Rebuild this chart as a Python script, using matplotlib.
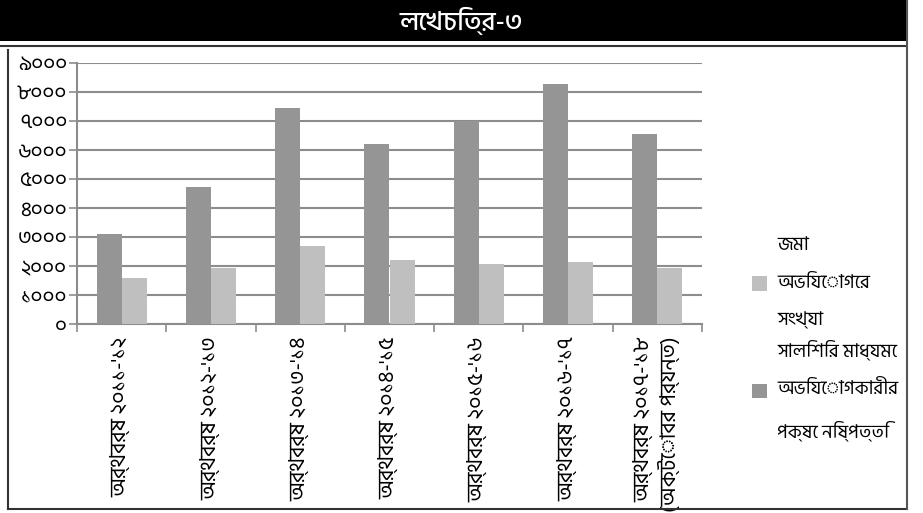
import matplotlib
matplotlib.use("Agg")
import matplotlib.pyplot as plt
from matplotlib.patches import Rectangle
from matplotlib.lines import Line2D
import numpy as np

# ---- data ----
categories = ["অর্থবর্ষ ২০১১-'১২", "অর্থবর্ষ ২০১২-'১৩", "অর্থবর্ষ ২০১৩-'১৪",
              "অর্থবর্ষ ২০১৪-'১৫", "অর্থবর্ষ ২০১৫-'১৬", "অর্থবর্ষ ২০১৬-'১৭",
              "অর্থবর্ষ ২০১৭-'১৮\n(অক্টোবর পর্যন্ত)"]
resolved = [3090, 4710, 7430, 6200, 6990, 8255, 6545]
submitted = [1600, 1930, 2675, 2200, 2055, 2150, 1930]
label_resolved = "সালিশির মাধ্যমে\nঅভিযোগকারীর\nপক্ষে নিষ্পত্তি"
label_submitted = "জমা\nঅভিযোগের\nসংখ্যা"
yticks = [0, 1000, 2000, 3000, 4000, 5000, 6000, 7000, 8000, 9000]
ytick_labels = ["০", "১০০০", "২০০০", "৩০০০", "৪০০০", "৫০০০", "৬০০০", "৭০০০", "৮০০০", "৯০০০"]
title = "লেখচিত্র-৩"

plt.rcParams["font.family"] = ["Hind Siliguri", "Noto Sans Bengali", "DejaVu Sans"]

W, H = 923, 513
fig = plt.figure(figsize=(W / 100, H / 100), dpi=100)

def fx(x):
    return x / W

def fy(y):
    return 1 - y / H

# header and frame
fig.add_artist(Rectangle((fx(0), fy(41)), fx(906), 41 / H, transform=fig.transFigure,
                         facecolor="black", edgecolor="none"))
fig.add_artist(Line2D([fx(0), fx(906)], [fy(46), fy(46)], transform=fig.transFigure,
                      color="#333333", lw=1.5))
fig.add_artist(Line2D([fx(8), fx(8)], [fy(50), fy(509)], transform=fig.transFigure,
                      color="#333333", lw=1.5))
fig.add_artist(Line2D([fx(8), fx(907)], [fy(509), fy(509)], transform=fig.transFigure,
                      color="#333333", lw=1.5))
fig.add_artist(Line2D([fx(907), fx(907)], [fy(0), fy(509)], transform=fig.transFigure,
                      color="#555555", lw=1.5))
fig.text(fx(461), fy(21), title, color="white", fontsize=19, fontweight="medium",
         ha="center", va="center")

ax = fig.add_axes([fx(77), fy(324), fx(702) - fx(77), (324 - 62.7) / H])
x = np.arange(len(categories))
w = 0.28
ax.bar(x - w / 2, resolved, w, color="#959595", label=label_resolved, zorder=3)
ax.bar(x + w / 2, submitted, w, color="#bfbfbf", label=label_submitted, zorder=3)
ax.set_xlim(-0.5, len(categories) - 0.5)
ax.set_ylim(0, 9000)
ax.set_yticks(yticks)
ax.set_yticklabels(ytick_labels, fontsize=15)
ax.yaxis.grid(True, color="#8c8c8c", lw=1.5, zorder=0)
ax.set_axisbelow(True)
for s in ["top", "right"]:
    ax.spines[s].set_visible(False)
for s in ["left", "bottom"]:
    ax.spines[s].set_color("#8c8c8c")
    ax.spines[s].set_linewidth(1.5)
ax.tick_params(axis="y", length=6, width=1.2, color="#8c8c8c", pad=1)
ax.set_xticks(np.arange(len(categories) + 1) - 0.5, minor=True)
ax.set_xticks(x)
ax.set_xticklabels(categories, rotation=90, fontsize=15.5, ha="center", va="top",
                   multialignment="right")
ax.tick_params(axis="x", which="major", length=0, pad=9)
ax.tick_params(axis="x", which="minor", length=6, width=1.2, color="#8c8c8c")

handles, labels = ax.get_legend_handles_labels()
leg = fig.legend(handles[::-1], labels[::-1], loc="center left",
                 bbox_to_anchor=(fx(735), fy(339)), frameon=False, fontsize=13.5,
                 handlelength=0.8, handleheight=0.8, labelspacing=0.55, handletextpad=0.55)
for t in leg.get_texts():
    t.set_linespacing(2.4)

fig.savefig("out.png", dpi=100)
